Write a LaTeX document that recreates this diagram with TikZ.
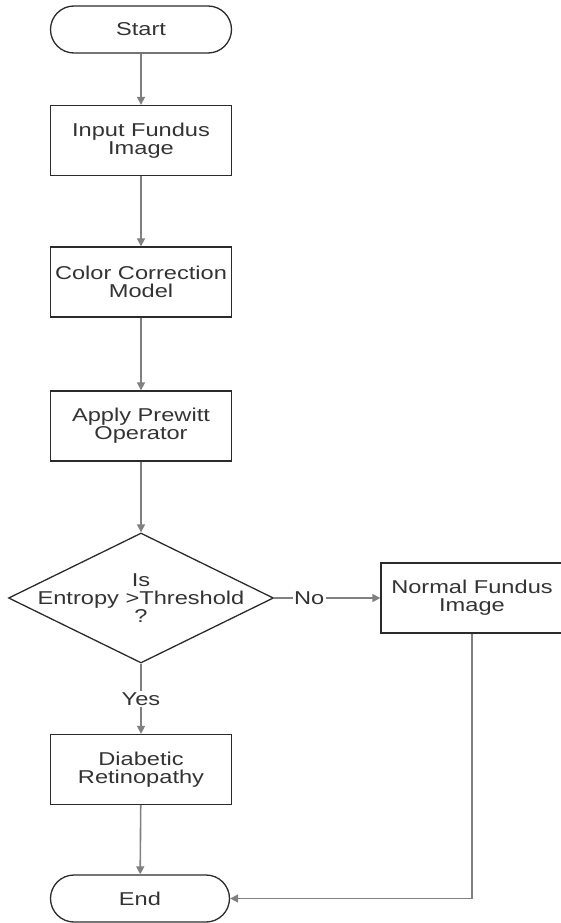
\documentclass[tikz,border=0pt]{standalone}
\usepackage{fontspec}
\setmainfont{Liberation Sans}[FakeStretch=1.27]
\usetikzlibrary{shapes.geometric,arrows.meta}
\definecolor{txtc}{HTML}{333333}
\definecolor{linec}{HTML}{2B2B2B}
\definecolor{arrc}{HTML}{808080}
\begin{document}
\begin{tikzpicture}[x=1pt,y=1pt,
  every node/.style={font=\fontsize{18.6}{18}\selectfont, text=txtc, align=center},
  procbox/.style={draw=linec, line width=1.3pt, rectangle, minimum width=181, minimum height=70, inner sep=0},
  termbox/.style={draw=linec, line width=1.3pt, rectangle, rounded corners=23.5, minimum width=181, minimum height=47, inner sep=0},
  decbox/.style={draw=linec, line width=1.3pt, diamond, minimum width=265, minimum height=130, inner sep=0},
  flow/.style={draw=arrc, line width=1.6pt, -{Triangle[length=8pt,width=8pt]}},
  lbl/.style={fill=white, inner sep=1.5pt}
]
\useasboundingbox (0,0) rectangle (560,-923);
\node[termbox] (start) at (141,-29.5) {Start};
\node[procbox] (input) at (141,-140.5) {Input Fundus\\Image};
\node[procbox] (color) at (141,-282) {Color Correction\\Model};
\node[procbox] (apply) at (141,-426) {Apply Prewitt\\Operator};
\node[decbox] (dec) at (141,-598) {};
\node (dectxt) at (dec.center) {Is\\Entropy >Threshold\\?};
\node[procbox, minimum width=182] (normal) at (472,-598) {Normal Fundus\\Image};
\node[procbox] (diab) at (141,-769.5) {Diabetic\\Retinopathy};
\node[termbox, minimum width=179] (end) at (140,-898.5) {End};

\draw[flow] (start) -- (input);
\draw[flow] (input) -- (color);
\draw[flow] (color) -- (apply);
\draw[flow] (apply) -- (dec.north);
\draw[flow] (dec.east) -- node[lbl, pos=0.33] (no) {No} (normal.west);
\draw[flow] (dec.south) -- node[lbl, midway] (yes) {Yes} (diab.north);
\draw[flow] (diab) -- (end);
\draw[flow] (normal.south) |- (end.east);
\end{tikzpicture}
\end{document}
